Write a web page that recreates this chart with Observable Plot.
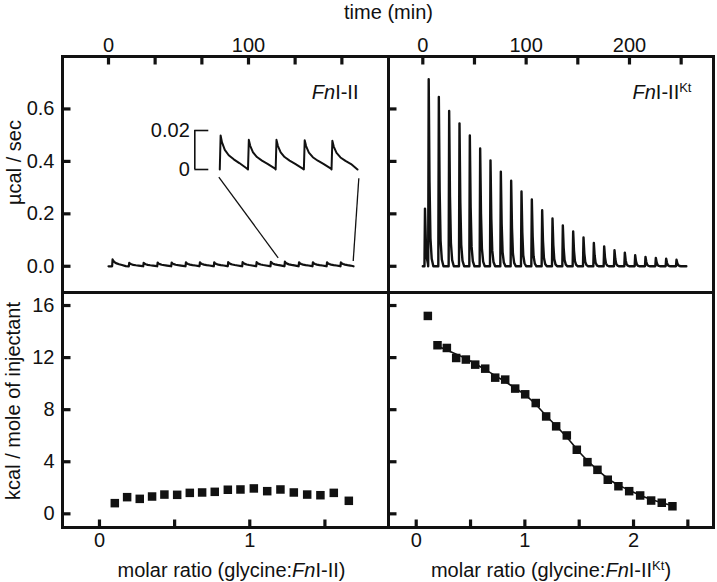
<!DOCTYPE html>
<html>
<head>
<meta charset="utf-8">
<script src="https://cdn.jsdelivr.net/npm/d3@7"></script>
<script src="https://cdn.jsdelivr.net/npm/@observablehq/plot@0.6"></script>
<style>
  body { margin: 0; background: #fff; }
  #chart { position: relative; width: 717px; height: 582px; overflow: hidden; }
  #chart svg { position: absolute; left: 0; top: 0; }
</style>
</head>
<body>
<div id="chart"></div>
<script>
// ---------------- data ----------------
// Raw thermogram, FnI-II: injection times (min) and peak heights (µcal/s)
const injTimeL = [2.6, 14.5, 24.8, 34.8, 44.8, 55, 65, 75.2, 85.2, 95.5, 105.5, 115.7, 125.7, 135.8, 145.7, 155.8, 165.7];
const injHeightL = [0.026, 0.013, 0.013, 0.014, 0.014, 0.015, 0.015, 0.015, 0.016, 0.016, 0.016, 0.017, 0.0174, 0.0152, 0.0152, 0.015, 0.0147];
const traceEndL = 175;
// Raw thermogram, FnI-II^Kt
const injTimeR = [1.6, 5.2, 15, 25, 35, 45, 55, 65, 75, 85, 95, 105, 115, 125, 135, 145, 155, 165, 175, 185, 195, 205, 215, 225, 235, 245];
const injHeightR = [0.22, 0.713, 0.646, 0.592, 0.545, 0.499, 0.449, 0.404, 0.361, 0.326, 0.285, 0.255, 0.214, 0.182, 0.156, 0.133, 0.110, 0.089, 0.076, 0.061, 0.052, 0.042, 0.036, 0.032, 0.029, 0.025];
const traceEndR = 255;
// Peak shapes: [minutes after injection, fraction of peak height]
const profileSlow = [[0, 0], [0.3, 1], [0.8, 0.8], [1.8, 0.58], [3.2, 0.42], [5, 0.3], [7, 0.19], [9.7, 0.03]];
const profileFast = [[0, 0], [0.5, 1], [1.3, 0.45], [2.2, 0.15], [3.4, 0.04], [5, 0]];
// Zoom inset: start time (min), scale bar (µcal/s)
const insetStart = 125.6;
const scaleBar = [0, 0.02];
// Connector lines from inset to trace (time, µcal/s)
const connectors = [
  {t1: 78.8, v1: 0.34, t2: 121.2, v2: 0.032},
  {t1: 178.8, v1: 0.336, t2: 174.8, v2: 0.02}
];
// Integrated heats, FnI-II
const ratioL = [0.102, 0.184, 0.268, 0.35, 0.432, 0.517, 0.601, 0.683, 0.767, 0.854, 0.938, 1.027, 1.116, 1.204, 1.293, 1.382, 1.47, 1.559, 1.659];
const heatL  = [0.82, 1.28, 1.15, 1.33, 1.48, 1.46, 1.61, 1.64, 1.69, 1.85, 1.87, 1.95, 1.74, 1.87, 1.64, 1.48, 1.43, 1.61, 1.0];
// Integrated heats, FnI-II^Kt
const ratioR = [0.107, 0.196, 0.282, 0.368, 0.457, 0.543, 0.635, 0.727, 0.819, 0.911, 1.003, 1.1, 1.196, 1.288, 1.386, 1.478, 1.576, 1.668, 1.763, 1.861, 1.96, 2.061, 2.162, 2.26, 2.358];
const heatR  = [15.2, 12.95, 12.74, 11.97, 11.85, 11.46, 11.15, 10.46, 10.31, 9.62, 9.18, 8.51, 7.48, 6.72, 6.02, 4.92, 3.97, 3.38, 2.62, 2.12, 1.74, 1.41, 1.02, 0.85, 0.58];
// Fitted binding curve, FnI-II^Kt
const fitRatioR = [0.18, 0.3, 0.45, 0.6, 0.75, 0.9, 1.0, 1.1, 1.2, 1.3, 1.4, 1.5, 1.6, 1.7, 1.8, 1.9, 2.0, 2.1, 2.2, 2.36];
const fitHeatR  = [12.95, 12.5, 11.95, 11.25, 10.5, 9.72, 9.15, 8.4, 7.5, 6.65, 5.75, 4.75, 3.9, 3.15, 2.5, 2.05, 1.65, 1.3, 1.0, 0.62];
// Ticks and labels
const timeTicksL = [0, 33.3, 66.7, 100, 133.3, 166.7];
const timeLabelsL = [0, 100];
const timeTicksR = [0, 50, 100, 150, 200, 250];
const timeLabelsR = [0, 100, 200];
const powerTicks = [0, 0.2, 0.4, 0.6];
const ratioTicksL = [0, 0.5, 1, 1.5];
const ratioLabelsL = [0, 1];
const ratioTicksR = [0, 0.5, 1, 1.5, 2, 2.5];
const ratioLabelsR = [0, 1, 2];
const heatTicks = [0, 4, 8, 12, 16];
// Texts (*..* = italic, ^..^ = superscript)
const xTitleTop = "time (min)";
const yTitleTop = "µcal / sec";
const yTitleBottom = "kcal / mole of injectant";
const panelLabelL = "*Fn*I-II";
const panelLabelR = "*Fn*I-II^Kt^";
const xTitleBL = "molar ratio (glycine:*Fn*I-II)";
const xTitleBR = "molar ratio (glycine:*Fn*I-II^Kt^)";

// ---------------- build tables ----------------
function buildTrace(times, heights, profile, end) {
  const pts = [{t: 0, v: 0}];
  times.forEach((t0, i) => {
    const next = i + 1 < times.length ? times[i + 1] : end;
    for (const [dt, f] of profile) {
      const t = t0 + dt;
      if (t < next) pts.push({t, v: heights[i] * f});
    }
  });
  pts.push({t: end, v: 0});
  return pts;
}
const traceL = buildTrace(injTimeL, injHeightL, profileSlow, traceEndL);
const traceR = buildTrace(injTimeR, injHeightR, profileFast, traceEndR);
const insetTrace = traceL.filter(d => d.t >= insetStart);
const pointsL = ratioL.map((x, i) => ({x, y: heatL[i]}));
const pointsR = ratioR.map((x, i) => ({x, y: heatR[i]}));
const fitR = fitRatioR.map((x, i) => ({x, y: fitHeatR[i]}));

// ---------------- layout ----------------
const W = 717, H = 582;
const LX = 62, MX = 388, RX = 713, TY = 56, MY = 292, BY = 527;
const INK = "#111";
const FONT = "'Liberation Sans', Arial, Helvetica, sans-serif";
const FS = 20;
const TICK = 8;

function panel(box, xDomain, yDomain, marks, hasXAxis, hasYAxis) {
  return Plot.plot({
    width: W, height: H,
    marginLeft: box[0], marginRight: W - box[1], marginTop: box[2], marginBottom: H - box[3],
    x: hasXAxis ? {domain: xDomain} : {domain: xDomain, axis: null},
    y: hasYAxis ? {domain: yDomain} : {domain: yDomain, axis: null},
    style: {background: "transparent", fontFamily: FONT, fontSize: FS + "px", color: INK, overflow: "visible"},
    marks
  });
}

// inward tick marks: length TICK px converted to data units of the panel
const frame = () => Plot.frame({stroke: INK, strokeWidth: 3, fill: "none"});
const tickStyle = {x1: "x1", y1: "y1", x2: "x2", y2: "y2", stroke: INK, strokeWidth: 3.2};
function topTicks(ticks, yDom, h) {
  const d = (yDom[1] - yDom[0]) * TICK / h;
  return Plot.link(ticks.map(v => ({x1: v, x2: v, y1: yDom[1], y2: yDom[1] - d})), tickStyle);
}
function bottomTicks(ticks, yDom, h) {
  const d = (yDom[1] - yDom[0]) * TICK / h;
  return Plot.link(ticks.map(v => ({x1: v, x2: v, y1: yDom[0], y2: yDom[0] + d})), tickStyle);
}
function leftTicks(ticks, xDom, w) {
  const d = (xDom[1] - xDom[0]) * TICK / w;
  return Plot.link(ticks.map(v => ({x1: xDom[0], x2: xDom[0] + d, y1: v, y2: v})), tickStyle);
}
const label = (s, opts) => Plot.text([s], {text: d => d, fill: INK, fontSize: FS, textAnchor: "middle", lineAnchor: "middle", ...opts});
const axX = (ticks, anchor) => Plot.axisX(ticks, {anchor, tickSize: 0, tickPadding: 5, label: null, fill: INK, fontSize: FS, tickFormat: d => String(d)});
const axY = (ticks, fmt) => Plot.axisY(ticks, {anchor: "left", tickSize: 0, tickPadding: 8, label: null, fill: INK, fontSize: FS, tickFormat: fmt});

const domTimeL = [-32.86, 200], domTimeR = [-33.2, 281.3], domPower = [-0.1, 0.8];
const domRatioL = [-0.246, 1.923], domRatioR = [-0.255, 2.736], domHeat = [-1.05, 17];

const tl = panel([LX, MX, TY, MY], domTimeL, domPower, [
  Plot.line(traceL, {x: "t", y: "v", stroke: INK, strokeWidth: 2.2, strokeLinejoin: "round"}),
  Plot.link(connectors, {x1: "t1", y1: "v1", x2: "t2", y2: "v2", stroke: INK, strokeWidth: 1.3}),
  frame(),
  topTicks(timeTicksL, domPower, MY - TY),
  leftTicks(powerTicks, domTimeL, MX - LX),
  axX(timeLabelsL, "top"),
  axY(powerTicks, d3.format(".1f")),
  label(xTitleTop, {frameAnchor: "top-right", dy: -44}),
  label(yTitleTop, {frameAnchor: "left", dx: -48, dy: -12, rotate: -90}),
  label(panelLabelL, {frameAnchor: "top-right", dx: -30, dy: 36, textAnchor: "end"})
], true, true);

const tr = panel([MX, RX, TY, MY], domTimeR, domPower, [
  Plot.line(traceR, {x: "t", y: "v", stroke: INK, strokeWidth: 2.4, strokeLinejoin: "round"}),
  frame(),
  topTicks(timeTicksR, domPower, MY - TY),
  leftTicks(powerTicks, domTimeR, RX - MX),
  axX(timeLabelsR, "top"),
  label(panelLabelR, {frameAnchor: "top-right", dx: -22, dy: 36, textAnchor: "end"})
], true, false);

const bl = panel([LX, MX, MY, BY], domRatioL, domHeat, [
  frame(),
  bottomTicks(ratioTicksL, domHeat, BY - MY),
  leftTicks(heatTicks, domRatioL, MX - LX),
  axX(ratioLabelsL, "bottom"),
  axY(heatTicks, d => String(d)),
  Plot.dot(pointsL, {x: "x", y: "y", symbol: "square", r: 4.8, fill: INK}),
  label(yTitleBottom, {frameAnchor: "left", dx: -49, dy: -9, rotate: -90}),
  label(xTitleBL, {frameAnchor: "bottom", dx: 6, dy: 43})
], true, true);

const br = panel([MX, RX, MY, BY], domRatioR, domHeat, [
  Plot.line(fitR, {x: "x", y: "y", stroke: INK, strokeWidth: 1.6, curve: "monotone-x"}),
  Plot.dot(pointsR, {x: "x", y: "y", symbol: "square", r: 4.8, fill: INK}),
  frame(),
  bottomTicks(ratioTicksR, domHeat, BY - MY),
  leftTicks(heatTicks, domRatioR, RX - MX),
  axX(ratioLabelsR, "bottom"),
  label(xTitleBR, {frameAnchor: "bottom", dx: 0, dy: 43})
], true, false);

// Zoom inset (own scales)
const insetL = 219, insetR = 357, insetZero = 169, insetTop = 130;
const pxPerMin = (insetR - insetL) / (traceEndL - insetStart);
const barX1 = insetStart - 24.7 / pxPerMin;
const barX2 = insetStart - 10.7 / pxPerMin;
const inset = Plot.plot({
  width: W, height: H,
  marginLeft: insetL, marginRight: W - insetR, marginTop: insetTop, marginBottom: H - insetZero,
  x: {domain: [insetStart, traceEndL], axis: null},
  y: {domain: [scaleBar[0], scaleBar[1]], axis: null},
  style: {background: "transparent", fontFamily: FONT, fontSize: FS + "px", color: INK, overflow: "visible"},
  marks: [
    Plot.line(insetTrace, {x: "t", y: "v", stroke: INK, strokeWidth: 2, strokeLinejoin: "round"}),
    Plot.ruleY(scaleBar, {y: d => d, x1: barX1, x2: barX2, stroke: INK, strokeWidth: 1.6}),
    Plot.ruleX([barX1], {x: d => d, y1: scaleBar[0], y2: scaleBar[1], stroke: INK, strokeWidth: 1.6}),
    Plot.text(scaleBar, {x: barX1, y: d => d, text: d => String(d), textAnchor: "end", dx: -5, fill: INK, fontSize: FS})
  ]
});

// Rich text: *italic*, ^superscript^
function rich(svg) {
  d3.select(svg).selectAll("text").each(function () {
    const s = this.textContent;
    if (!/[*^]/.test(s)) return;
    const el = d3.select(this);
    el.text(null);
    let it = false, sup = false, wasSup = false;
    for (const tok of s.split(/([*^])/)) {
      if (tok === "*") { it = !it; continue; }
      if (tok === "^") { sup = !sup; continue; }
      if (!tok) continue;
      const ts = el.append("tspan").text(tok);
      if (it) ts.attr("font-style", "italic");
      if (sup) { ts.attr("font-size", "13px").attr("dy", "-7"); wasSup = true; }
      else if (wasSup) { ts.attr("dy", "7"); wasSup = false; }
    }
  });
}

const chart = document.getElementById("chart");
for (const p of [tl, tr, bl, br, inset]) { rich(p); chart.appendChild(p); }
</script>
</body>
</html>
